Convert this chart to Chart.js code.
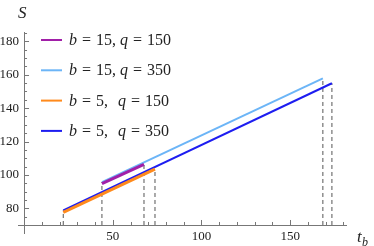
<!DOCTYPE html>
<html>
<head>
<meta charset="utf-8">
<script src="https://cdn.jsdelivr.net/npm/chart.js@4"></script>
<style>
  html, body { margin: 0; padding: 0; background: #fff; }
</style>
</head>
<body>
<canvas id="myChart" width="374" height="246"></canvas>
<script>
// values: each curve is a straight segment (t_b, S)
const legendB = ['15', '15', '5', '5'];
const legendQ = ['150', '350', '150', '350'];
const tb_b15q150 = [43.9, 67.6];
const S_b15q150 = [94.8, 106.3];
const tb_b15q350 = [43.9, 168.4];
const S_b15q350 = [95.7, 157.8];
const tb_b5q150 = [22.1, 73.8];
const S_b5q150 = [77.6, 103.4];
const tb_b5q350 = [22.1, 173.5];
const S_b5q350 = [78.7, 154.9];
const xTicks = [50, 100, 150];
const yTicks = [80, 100, 120, 140, 160, 180];

const colors = ['#a11fa8', '#6cb5f7', '#ff8a1c', '#1d1df0'];
const widths = [3, 2, 3, 2];
const SERIF = '"Liberation Serif", "DejaVu Serif", serif';
const AXIS_Y = 70;   // S value where the t_b axis sits

function pts(xs, ys) {
  return xs.map((x, i) => ({ x: x, y: ys[i] }));
}

const series = [
  pts(tb_b15q150, S_b15q150),
  pts(tb_b15q350, S_b15q350),
  pts(tb_b5q150, S_b5q150),
  pts(tb_b5q350, S_b5q350)
];

// dashed drop lines from the curve ends down to the axis
function dropLines() {
  let seen = {};
  let out = [];
  series.forEach(s => {
    s.forEach(p => {
      let key = p.x.toFixed(1);
      if (seen[key] !== undefined && seen[key] >= p.y) return;
      seen[key] = p.y;
    });
  });
  Object.keys(seen).forEach(k => {
    out.push({
      data: [{ x: parseFloat(k), y: AXIS_Y }, { x: parseFloat(k), y: seen[k] }],
      borderColor: '#555',
      borderWidth: 1,
      borderDash: [4, 3],
      pointRadius: 0,
      showLine: true,
      order: 10
    });
  });
  return out;
}

// draw order: purple and orange sit on top
const drawOrder = [1, 4, 2, 3];
let datasets = series.map((s, i) => ({
  data: s,
  borderColor: colors[i],
  borderWidth: widths[i],
  pointRadius: 0,
  showLine: true,
  order: drawOrder[i]
}));
datasets = datasets.concat(dropLines());

const axesPlugin = {
  id: 'mmaAxes',
  beforeDatasetsDraw(chart) {
    const ctx = chart.ctx;
    const xs = chart.scales.x, ys = chart.scales.y;
    const area = chart.chartArea;
    const y0 = ys.getPixelForValue(AXIS_Y);
    const x0 = xs.getPixelForValue(0);
    ctx.save();
    ctx.strokeStyle = '#777';
    ctx.lineWidth = 1;
    ctx.beginPath();
    ctx.moveTo(area.left, Math.round(y0) + 0.5);
    ctx.lineTo(area.right, Math.round(y0) + 0.5);
    ctx.moveTo(Math.round(x0) + 0.5, area.top);
    ctx.lineTo(Math.round(x0) + 0.5, area.bottom);
    // x ticks, pointing up
    for (let v = 10; v <= xs.max; v += 10) {
      let px = Math.round(xs.getPixelForValue(v)) + 0.5;
      let len = v % 50 === 0 ? 5 : 3;
      ctx.moveTo(px, y0);
      ctx.lineTo(px, y0 - len);
    }
    // y ticks, pointing right
    for (let v = 75; v <= ys.max; v += 5) {
      let py = Math.round(ys.getPixelForValue(v)) + 0.5;
      let len = v % 20 === 0 ? 5 : 3;
      ctx.moveTo(x0, py);
      ctx.lineTo(x0 + len, py);
    }
    ctx.stroke();

    ctx.fillStyle = '#222';
    ctx.font = '13px ' + SERIF;
    ctx.textAlign = 'center';
    ctx.textBaseline = 'middle';
    xTicks.forEach(v => ctx.fillText(String(v), xs.getPixelForValue(v), y0 + 12));
    ctx.textAlign = 'right';
    yTicks.forEach(v => ctx.fillText(String(v), x0 - 5, ys.getPixelForValue(v)));

    // axis titles
    ctx.textAlign = 'left';
    ctx.textBaseline = 'alphabetic';
    ctx.font = 'italic 17px ' + SERIF;
    ctx.fillText('S', 18, 18);
    ctx.fillText('t', 357, 242);
    ctx.font = 'italic 12px ' + SERIF;
    ctx.fillText('b', 362, 246);
    ctx.restore();
  }
};

// legend pieces: [text, italic, gap after]
function runs(ctx, x, y, parts) {
  parts.forEach(p => {
    ctx.font = (p[1] ? 'italic ' : '') + '16px ' + SERIF;
    ctx.fillText(p[0], x, y);
    x += ctx.measureText(p[0]).width + p[2];
  });
}

const legendPlugin = {
  id: 'mmaLegend',
  afterDatasetsDraw(chart) {
    const ctx = chart.ctx;
    ctx.save();
    ctx.fillStyle = '#222';
    ctx.textBaseline = 'alphabetic';
    legendB.forEach((b, i) => {
      let y = 40 + 30.3 * i;
      ctx.strokeStyle = colors[i];
      ctx.lineWidth = 2;
      ctx.beginPath();
      ctx.moveTo(41, y);
      ctx.lineTo(62, y);
      ctx.stroke();
      let commaGap = b.length === 1 ? 10 : 4;
      runs(ctx, 69, y + 5, [
        ['b', true, 5], ['=', false, 5], [b + ',', false, commaGap],
        ['q', true, 5], ['=', false, 5], [legendQ[i], false, 0]
      ]);
    });
    ctx.restore();
  }
};

new Chart(document.getElementById('myChart'), {
  type: 'scatter',
  data: { datasets: datasets },
  options: {
    responsive: false,
    animation: false,
    devicePixelRatio: 1,
    layout: { padding: { left: 18, right: 27, top: 32, bottom: 12 } },
    plugins: { legend: { display: false }, tooltip: { enabled: false } },
    scales: {
      x: { type: 'linear', min: -3.4, max: 182, display: false },
      y: { type: 'linear', min: 64.6, max: 185.6, display: false }
    }
  },
  plugins: [axesPlugin, legendPlugin]
});
</script>
</body>
</html>
